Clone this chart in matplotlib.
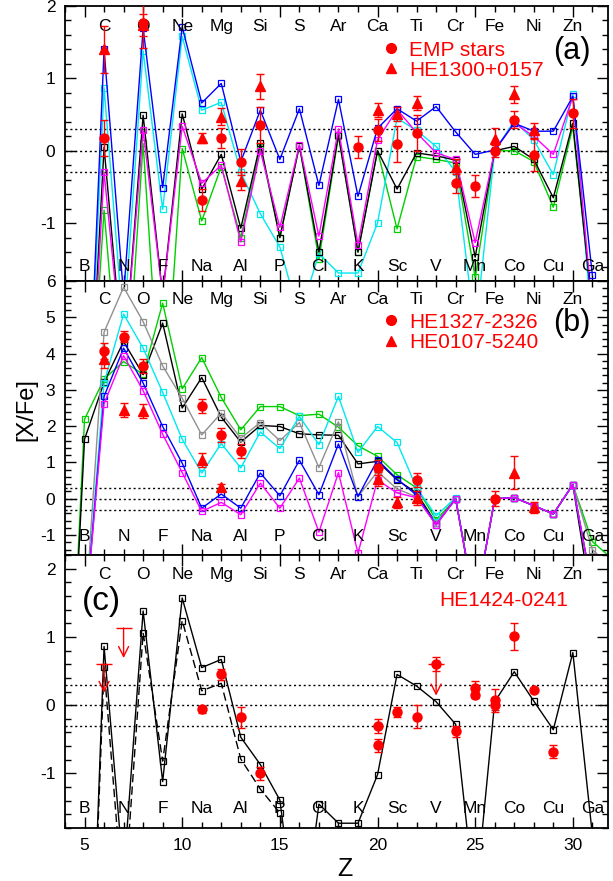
import numpy as np
import matplotlib
matplotlib.use("Agg")
import matplotlib.pyplot as plt
from matplotlib.lines import Line2D
from matplotlib.ticker import MultipleLocator

plt.rcParams['font.family'] = ['Liberation Sans', 'DejaVu Sans']
plt.rcParams['axes.unicode_minus'] = False

# ---------------- element labels ----------------
elements = ['B', 'C', 'N', 'O', 'F', 'Ne', 'Na', 'Mg', 'Al', 'Si', 'P', 'S', 'Cl', 'Ar',
            'K', 'Ca', 'Sc', 'Ti', 'V', 'Cr', 'Mn', 'Fe', 'Co', 'Ni', 'Cu', 'Zn', 'Ga']
elem_z = list(range(5, 32))

# ---------------- panel (a) ----------------
z_a = list(range(5, 32))
blue_a = [-5, 1.40, -2.0, 1.69, -0.51, 1.71, 0.66, 0.93, -0.15, 0.56, -0.12, 0.58, -0.48, 0.71,
          -0.63, 0.31, 0.58, 0.41, 0.61, 0.26, -0.05, 0.01, 0.38, 0.27, 0.27, 0.75, -1.72]
cyan_a = [-5, 0.87, -2.5, 1.38, -0.81, 1.58, 0.56, 0.67, -0.30, -0.87, -1.33, -2.3, -1.42, -1.69,
          -1.69, -1.00, 0.45, 0.28, 0.06, -0.29, -2.5, 0.00, 0.41, 0.15, -0.33, 0.78, -2.5]
black_a = [-5, 0.05, -3.0, 0.49, -2.0, 0.51, -0.53, -0.05, -1.07, 0.10, -1.20, 0.07, -1.40, 0.22,
           -1.40, 0.00, -0.53, -0.03, -0.07, -0.13, -1.47, 0.00, 0.06, -0.12, -0.65, 0.38, -2.2]
magenta_a = [-5, -0.30, -3.0, 0.28, -2.0, 0.34, -0.45, -0.20, -1.26, 0.00, -1.06, 0.08, -1.18, 0.30,
             -1.30, 0.15, 0.57, 0.25, -0.03, -0.12, -1.27, 0.00, 0.38, 0.20, -0.05, 0.75, -2.2]
green_a = [-5, -0.82, -4.0, 0.10, -4.0, 0.03, -0.97, -0.22, -1.20, 0.05, -1.20, 0.07, -1.50, 0.20,
           -1.40, 0.00, -1.08, -0.08, -0.12, -0.17, -1.75, 0.00, 0.00, -0.15, -0.78, 0.33, -2.2]

emp_z = [6, 8, 11, 12, 13, 14, 19, 20, 21, 22, 24, 25, 26, 27, 28, 30]
emp_v = [0.18, 1.77, -0.68, 0.18, -0.15, 0.36, 0.05, 0.29, 0.09, 0.25, -0.44, -0.49, 0.00, 0.43, -0.06, 0.52]
emp_e = [0.25, 0.35, 0.15, 0.14, 0.18, 0.25, 0.15, 0.15, 0.25, 0.25, 0.15, 0.15, 0.08, 0.12, 0.22, 0.20]

he1300_z = [6, 8, 11, 12, 13, 14, 20, 21, 22, 24, 26, 27, 28]
he1300_v = [1.40, 1.74, 0.18, 0.47, -0.42, 0.89, 0.56, 0.51, 0.66, -0.22, 0.16, 0.78, 0.28]
he1300_e = [0.32, 0.15, 0.07, 0.12, 0.12, 0.17, 0.10, 0.10, 0.10, 0.10, 0.15, 0.12, 0.10]

# ---------------- panel (b) ----------------
z_b = list(range(4, 33))
green_b = [-9, 2.19, 3.30, 3.78, 3.43, 5.39, 3.03, 3.89, 2.79, 1.90, 2.54, 2.54, 2.29, 2.33, 1.97,
           1.46, 1.17, 0.66, 0.30, -0.58, 0.00, -3.0, 0.00, 0.03, -0.19, -0.42, 0.39, -1.18, -1.65]
black_b = [-9, 1.64, 3.21, 4.33, 3.42, 4.84, 2.50, 3.34, 2.25, 1.56, 2.02, 1.99, 1.79, 1.76, 1.75,
           0.96, 1.03, 0.52, 0.16, -0.68, 0.00, -3.0, 0.00, 0.03, -0.19, -0.42, 0.39, -3.0, -5]
gray_b = [-8, -3.5, 4.59, 5.83, 4.88, 3.66, 2.77, 1.76, 2.36, 1.67, 2.10, 1.60, 2.10, 0.86, 2.12,
          0.06, 0.75, 0.27, 0.05, -0.68, 0.00, -3.0, 0.00, 0.03, -0.19, -0.42, 0.39, -1.40, -1.9]
cyan_b = [-8, -3.5, 3.20, 5.09, 4.15, 2.93, 1.64, 0.71, 1.52, 0.85, 1.84, 1.38, 2.27, 1.49, 2.82,
          1.28, 1.99, 1.55, 0.30, -0.47, 0.03, -3.0, 0.00, 0.03, -0.19, -0.42, 0.39, -2.5, -5]
blue_b = [-8, -3.5, 2.82, 4.15, 3.19, 1.99, 0.98, -0.26, 0.13, -0.26, 0.71, 0.08, 1.06, 0.11, 1.51,
          0.06, 1.07, 0.54, 0.10, -0.72, 0.00, -3.0, 0.00, 0.03, -0.19, -0.42, 0.39, -2.5, -5]
magenta_b = [-8, -3.5, 2.62, 3.94, 2.98, 1.78, 0.72, -0.35, -0.10, -0.44, 0.43, -0.26, 0.57, -0.92, 0.72,
             -1.50, 0.52, 0.16, 0.03, -0.72, 0.00, -3.0, 0.00, 0.03, -0.19, -0.42, 0.39, -2.5, -5]

he1327_z = [6, 7, 8, 11, 12, 13, 20, 22, 26]
he1327_v = [4.06, 4.47, 3.66, 2.56, 1.76, 1.32, 0.86, 0.52, 0.00]
he1327_e = [0.22, 0.15, 0.20, 0.20, 0.20, 0.20, 0.20, 0.20, 0.20]

he0107_z = [6, 7, 8, 11, 12, 20, 21, 22, 27, 28]
he0107_v = [3.86, 2.45, 2.42, 1.07, 0.32, 0.55, -0.10, 0.02, 0.72, -0.24]
he0107_e = [0.25, 0.20, 0.20, 0.20, 0.08, 0.20, 0.15, 0.20, 0.45, 0.15]

# ---------------- panel (c) ----------------
z_c = list(range(5, 32))
solid_c = [-7, 0.86, -2.5, 1.38, -1.12, 1.57, 0.55, 0.67, -0.47, -0.87, -1.39, -3.6, -1.45, -1.73,
           -1.73, -1.02, 0.45, 0.28, 0.05, -0.28, -2.9, 0.05, 0.49, 0.06, -0.36, 0.77, -1.9]
z_c_dash = list(range(5, 17))
dashed_c = [-7, 0.56, -3.0, 1.06, -0.82, 1.24, 0.21, 0.32, -0.79, -1.23, -1.58, -3.5]

he1424_z = [11, 12, 13, 14, 20, 20, 21, 22, 23, 24, 25, 25, 26, 26, 27, 28, 29]
he1424_v = [-0.06, 0.45, -0.18, -1.00, -0.31, -0.59, -0.10, -0.17, 0.60, -0.38, 0.25, 0.15, 0.08, 0.00, 1.01, 0.22, -0.68]
he1424_e = [0.05, 0.08, 0.15, 0.10, 0.10, 0.10, 0.08, 0.17, 0.10, 0.08, 0.10, 0.05, 0.15, 0.10, 0.20, 0.00, 0.10]

ul_z = [6, 7, 23]
ul_from = [0.61, 1.13, 0.60]
ul_to = [0.18, 0.69, 0.14]

# ---------------- colours ----------------
C_BLUE = '#0000ff'
C_CYAN = '#00e8f0'
C_GREEN = '#00d000'
C_MAG = '#ff00ff'
C_GRAY = '#909090'
C_RED = '#ff0000'

fig = plt.figure(figsize=(6.13, 8.81), dpi=100)
L = 65 / 613
W = 543 / 613
axa = fig.add_axes([L, 1 - 281 / 881, W, 275 / 881])
axb = fig.add_axes([L, 1 - 555 / 881, W, 274 / 881])
axc = fig.add_axes([L, 1 - 828 / 881, W, 273 / 881])


def style(ax, ylim, ytop, ybot, show_x):
    ax.set_xlim(4, 31.8)
    ax.set_ylim(*ylim)
    ax.xaxis.set_major_locator(MultipleLocator(5))
    ax.xaxis.set_minor_locator(MultipleLocator(1))
    ax.yaxis.set_major_locator(MultipleLocator(1))
    ax.yaxis.set_minor_locator(MultipleLocator(0.2))
    ax.tick_params(which='both', direction='in', top=True, right=True, width=1, labelsize=12.5)
    ax.tick_params(which='major', length=8)
    ax.tick_params(which='minor', length=4)
    ax.tick_params(axis='y', pad=7)
    ax.tick_params(axis='x', pad=7)
    if not show_x:
        ax.tick_params(axis='x', labelbottom=False)
    for s in ax.spines.values():
        s.set_linewidth(1.3)
    for yv in (-0.3, 0.0, 0.3):
        ax.axhline(yv, color='k', ls=(0, (1.5, 2.0)), lw=1.0, zorder=1)
    tr = ax.get_xaxis_transform()
    for z, el in zip(elem_z, elements):
        yy = ytop if z % 2 == 0 else ybot
        ax.text(z, yy, el, transform=tr, ha='center', va='center', fontsize=12.5, zorder=4)


def model(ax, z, v, color, ls='-'):
    ax.plot(z, v, color=color, lw=1.0, ls=ls, marker='s', ms=4.2, mfc='none',
            mec=color, mew=0.9, zorder=3)


def obs(ax, z, v, e, marker, ms):
    ax.errorbar(z, v, yerr=e, fmt=marker, color=C_RED, ms=ms, capsize=3.2,
                elinewidth=1.0, capthick=1.0, zorder=7)


# panel (a)
style(axa, (-1.8, 2.0), 0.924, 0.053, False)
model(axa, z_a, green_a, C_GREEN)
model(axa, z_a, cyan_a, C_CYAN)
model(axa, z_a, black_a, 'black')
model(axa, z_a, magenta_a, C_MAG)
model(axa, z_a, blue_a, C_BLUE)
obs(axa, emp_z, emp_v, emp_e, 'o', 6.5)
obs(axa, he1300_z, he1300_v, he1300_e, '^', 7)
h1 = Line2D([], [], ls='none', marker='o', color=C_RED, ms=7)
h2 = Line2D([], [], ls='none', marker='^', color=C_RED, ms=7)
axa.legend([h1, h2], ['EMP stars', 'HE1300+0157'], loc='upper left',
           bbox_to_anchor=(0.588, 0.874), frameon=False, fontsize=15, labelcolor=C_RED,
           handlelength=0.6, handletextpad=0.6, borderaxespad=0, borderpad=0, labelspacing=0.05)
axa.text(0.934, 0.837, '(a)', transform=axa.transAxes, ha='center', va='center', fontsize=22)

# panel (b)
style(axb, (-1.55, 6.0), 0.931, 0.066, False)
model(axb, z_b, green_b, C_GREEN)
model(axb, z_b, black_b, 'black')
model(axb, z_b, gray_b, C_GRAY)
model(axb, z_b, cyan_b, C_CYAN)
model(axb, z_b, blue_b, C_BLUE)
model(axb, z_b, magenta_b, C_MAG)
obs(axb, he1327_z, he1327_v, he1327_e, 'o', 6.5)
obs(axb, he0107_z, he0107_v, he0107_e, '^', 7)
axb.legend([h1, h2], ['HE1327-2326', 'HE0107-5240'], loc='upper left',
           bbox_to_anchor=(0.588, 0.884), frameon=False, fontsize=15, labelcolor=C_RED,
           handlelength=0.6, handletextpad=0.6, borderaxespad=0, borderpad=0, labelspacing=0.05)
axb.text(0.934, 0.845, '(b)', transform=axb.transAxes, ha='center', va='center', fontsize=22)

# panel (c)
style(axc, (-1.8, 2.2), 0.927, 0.073, True)
model(axc, z_c, solid_c, 'black')
model(axc, z_c_dash, dashed_c, 'black', ls=(0, (6, 3)))
obs(axc, he1424_z, he1424_v, he1424_e, 'o', 6.5)
for z, top, bot in zip(ul_z, ul_from, ul_to):
    axc.annotate('', xy=(z, bot), xytext=(z, top),
                 arrowprops=dict(arrowstyle='->,head_length=0.6,head_width=0.3', color=C_RED,
                                 lw=1.0, shrinkA=0, shrinkB=0, mutation_scale=12), zorder=7)
    axc.plot([z], [top], marker='_', ms=11, mew=1.0, color=C_RED, zorder=7)
axc.text(0.807, 0.835, 'HE1424-0241', transform=axc.transAxes, ha='center', va='center',
         fontsize=15, color=C_RED)
axc.text(0.068, 0.828, '(c)', transform=axc.transAxes, ha='center', va='center', fontsize=24)

fig.text(26 / 613, 1 - 410 / 881, '[X/Fe]', rotation=90, ha='center', va='center', fontsize=17)
fig.text(345 / 613, 1 - 869 / 881, 'Z', ha='center', va='center', fontsize=18)

fig.savefig('out.png', dpi=100)
